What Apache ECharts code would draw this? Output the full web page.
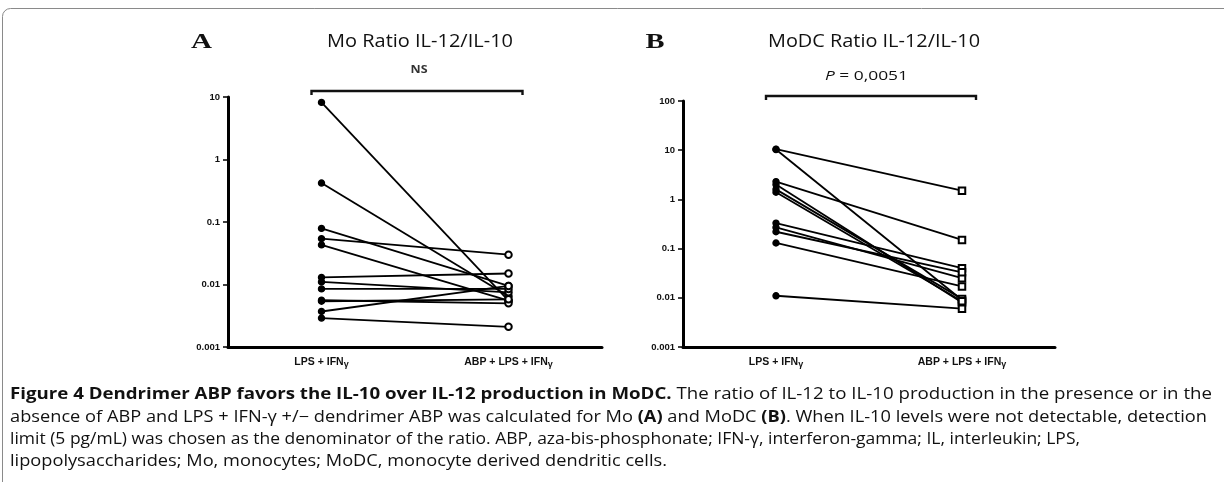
<!DOCTYPE html>
<html><head><meta charset="utf-8">
<script src="https://cdn.jsdelivr.net/npm/echarts@6/dist/echarts.min.js"></script>
<style>html,body{margin:0;padding:0;background:#fff;overflow:hidden}#c{width:1224px;height:482px}</style>
</head><body><div id="c"></div>
<script>
// ---- data ----
const categories = ['LPS + IFNγ', 'ABP + LPS + IFNγ'];
const moTickLabels = ['0.001', '0.01', '0.1', '1', '10'];
const modcTickLabels = ['0.001', '0.01', '0.1', '1', '10', '100'];
const moBefore = [8.2, 0.42, 0.079, 0.054, 0.043, 0.013, 0.011, 0.0085, 0.0056, 0.0054, 0.0037, 0.0029];
const moAfter  = [0.0055, 0.0065, 0.0095, 0.030, 0.0055, 0.015, 0.0075, 0.0085, 0.005, 0.0058, 0.0095, 0.0021];
const modcBefore = [10.5, 10.3, 2.3, 2.0, 1.6, 1.4, 0.33, 0.27, 0.22, 0.13, 0.011];
const modcAfter  = [1.5, 0.009, 0.15, 0.008, 0.0095, 0.0085, 0.04, 0.025, 0.033, 0.017, 0.006];
const titleA = 'Mo Ratio IL-12/IL-10';
const titleB = 'MoDC Ratio IL-12/IL-10';
const statA = 'NS';
const statB = '0,0051';
const captionLines = [
  [['Figure 4 Dendrimer ABP favors the IL-10 over IL-12 production in MoDC.', true], [' The ratio of IL-12 to IL-10 production in the presence or in the', false]],
  [['absence of ABP and LPS + IFN-γ +/− dendrimer ABP was calculated for Mo ', false], ['(A)', true], [' and MoDC ', false], ['(B)', true], ['. When IL-10 levels were not detectable, detection', false]],
  [['limit (5 pg/mL) was chosen as the denominator of the ratio. ABP, aza-bis-phosphonate; IFN-γ, interferon-gamma; IL, interleukin; LPS,', false]],
  [['lipopolysaccharides; Mo, monocytes; MoDC, monocyte derived dendritic cells.', false]]
];

// ---- chart ----
const chart = echarts.init(document.getElementById('c'), null, {renderer: 'canvas'});
const AX = '#000';
function xAxisCfg(gi) {
  return {
    type: 'category', gridIndex: gi, data: categories, boundaryGap: true,
    axisLine: {lineStyle: {color: AX, width: 3}},
    axisTick: {alignWithLabel: true, length: 4, lineStyle: {color: AX, width: 1.5}},
    axisLabel: {
      margin: 8, color: '#111', fontFamily: 'Liberation Sans', fontWeight: 'bold', fontSize: 10.5,
      formatter: v => v.replace('γ', '{g|γ}'),
      rich: {g: {fontSize: 9, fontWeight: 'bold', fontFamily: 'Liberation Sans', padding: [5, 0, 0, 0]}}
    },
    splitLine: {show: false}
  };
}
function yAxisCfg(gi, max, labels) {
  return {
    type: 'log', logBase: 10, gridIndex: gi, min: 0.001, max: max, splitNumber: labels.length - 1,
    axisLine: {show: true, lineStyle: {color: AX, width: 3}},
    axisTick: {show: true, length: 5, lineStyle: {color: AX, width: 1.5}},
    minorTick: {show: false},
    axisLabel: {
      margin: 8, color: '#111', fontFamily: 'Liberation Sans', fontWeight: 'bold', fontSize: 9.5,
      formatter: v => labels[Math.round(Math.log10(v)) + 3] || ''
    },
    splitLine: {show: false}
  };
}
function pairSeries(before, after, gi, leftSym, rightSym, rightSize) {
  return before.map((b, i) => ({
    type: 'line', xAxisIndex: gi, yAxisIndex: gi, silent: true, animation: false,
    lineStyle: {color: '#000', width: 1.8},
    itemStyle: {color: '#000', borderColor: '#000', borderWidth: 1.4},
    data: [
      {value: b, symbol: leftSym, symbolSize: 6},
      {value: after[i], symbol: rightSym, symbolSize: rightSize}
    ]
  }));
}

const option = {
  backgroundColor: '#fff',
  animation: false,
  grid: [
    {left: 228, top: 97, width: 374, height: 250},
    {left: 683, top: 101, width: 372, height: 246}
  ],
  xAxis: [xAxisCfg(0), xAxisCfg(1)],
  yAxis: [yAxisCfg(0, 10, moTickLabels), yAxisCfg(1, 100, modcTickLabels)],
  series: [
    ...pairSeries(moBefore, moAfter, 0, 'circle', 'emptyCircle', 6.5),
    ...pairSeries(modcBefore, modcAfter, 1, 'circle', 'emptyRect', 6.5)
  ]
};
chart.setOption(option);

// ---- text measuring helper ----
const ctx = document.createElement('canvas').getContext('2d');
function mw(t, font) { ctx.font = font; return ctx.measureText(t).width; }

// ---- annotations derived from axes ----
const g = [];
g.push({type: 'rect', shape: {x: 2.5, y: 8.5, width: 1240, height: 600, r: 8}, style: {fill: null, stroke: '#8a8a8a', lineWidth: 1}, silent: true});
function bracket(gi, yPix) {
  const x0 = chart.convertToPixel({xAxisIndex: gi}, categories[0]) - 10;
  const x1 = chart.convertToPixel({xAxisIndex: gi}, categories[1]) + 14;
  g.push({type: 'polyline', shape: {points: [[x0, yPix + 4], [x0, yPix], [x1, yPix], [x1, yPix + 4]]},
    style: {stroke: '#111', lineWidth: 2.4, fill: null}, silent: true});
  return (x0 + x1) / 2;
}
bracket(0, 91);
bracket(1, 96);
function fitted(text, font, cx, cy, targetW, fill) {
  const nw = mw(text, font);
  const s = targetW / nw;
  g.push({type: 'text', x: cx - targetW / 2, y: cy, scaleX: s, silent: true,
    style: {text: text, font: font, fill: fill, align: 'left', verticalAlign: 'middle'}});
}
fitted(titleA, '18px "Open Sans"', 420, 42, 186, '#111');
fitted(titleB, '18px "Open Sans"', 874, 42, 212, '#111');
fitted('A', 'bold 21px "Liberation Serif"', 201.5, 43, 21, '#111');
fitted('B', 'bold 21px "Liberation Serif"', 655, 43, 19, '#111');
fitted(statA, 'bold 10px "Open Sans"', 419, 70, 17, '#333');
(function () {
  const fI = 'italic 12.5px "Open Sans"', fN = '12.5px "Open Sans"';
  const rest = ' = ' + statB;
  const nw = mw('P', fI) + mw(rest, fN);
  const s = 83 / nw;
  const x0 = 866.5 - 83 / 2;
  g.push({type: 'text', x: x0, y: 76, scaleX: s, silent: true, style: {text: 'P', font: fI, fill: '#111', verticalAlign: 'middle'}});
  g.push({type: 'text', x: x0 + mw('P', fI) * s, y: 76, scaleX: s, silent: true, style: {text: rest, font: fN, fill: '#111', verticalAlign: 'middle'}});
})();

// caption: each line scaled horizontally to its width in the figure
const fam = '"Open Sans"';
const capSize = 15.5;
function cf(b) { return (b ? 'bold ' : '') + capSize + 'px ' + fam; }
const capY = [395, 418, 440, 462];
const capEnd = [1212, 1207, 1080, 667];
captionLines.forEach((parts, li) => {
  const natural = parts.reduce((s, p) => s + mw(p[0], cf(p[1])), 0);
  const sc = (capEnd[li] - 10) / natural;
  let x = 10;
  parts.forEach(([t, b]) => {
    g.push({type: 'text', x: x, y: capY[li], scaleX: sc, silent: true,
      style: {text: t, font: cf(b), fill: '#111', align: 'left', verticalAlign: 'middle'}});
    x += mw(t, cf(b)) * sc;
  });
});
chart.setOption({graphic: g});
</script>
</body></html>
